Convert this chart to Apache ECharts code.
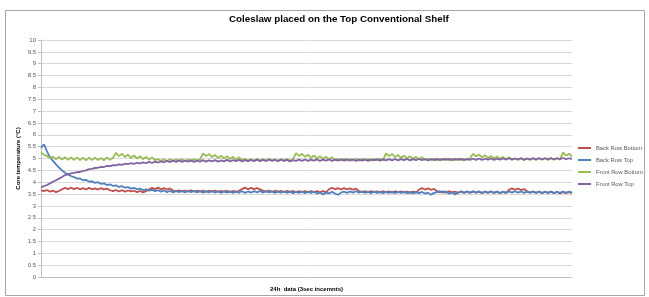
<!DOCTYPE html>
<html>
<head>
<meta charset="utf-8">
<script src="https://cdn.jsdelivr.net/npm/echarts@6/dist/echarts.min.js"></script>
<style>
    html, body {margin: 0; padding: 0; background: #fff;}
    #main {width: 649px; height: 297px;}
</style>
</head>
<body>
<div id="main"></div>
<script>
// 曲线数据（每3秒一个读数，按图读取）
var seriesNames = ['Back Row Bottom', 'Back Row Top', 'Front Row Bottom', 'Front Row Top'];
var seriesColors = ['#c0504d', '#4f81bd', '#9bbb59', '#8064a2'];

var backRowBottom = [
    3.66, 3.62, 3.67, 3.6, 3.64, 3.58, 3.63,
    3.7, 3.76, 3.7, 3.77, 3.71, 3.76, 3.7, 3.75, 3.69, 3.76, 3.7, 3.74, 3.69, 3.75, 3.7, 3.73,
    3.66, 3.62, 3.67, 3.61, 3.66, 3.6, 3.65, 3.61, 3.64, 3.58, 3.63, 3.57, 3.62,
    3.7, 3.76, 3.71, 3.77, 3.7, 3.75, 3.69, 3.74,
    3.65, 3.61, 3.66, 3.6, 3.65, 3.61, 3.66, 3.6, 3.64, 3.6, 3.65, 3.59, 3.64, 3.6, 3.65, 3.59, 3.63, 3.6, 3.64, 3.58, 3.63, 3.59, 3.64,
    3.71, 3.77, 3.7, 3.76, 3.71, 3.75, 3.7,
    3.64, 3.6, 3.65, 3.59, 3.64, 3.6, 3.63, 3.58, 3.64, 3.59, 3.63, 3.57, 3.62, 3.58, 3.63, 3.57, 3.62, 3.58, 3.63, 3.57, 3.62, 3.58,
    3.7, 3.76, 3.7, 3.75, 3.69, 3.75, 3.7, 3.74, 3.68, 3.73,
    3.63, 3.58, 3.62, 3.57, 3.62, 3.58, 3.61, 3.56, 3.62, 3.57, 3.61, 3.56, 3.62, 3.57, 3.61, 3.56, 3.6, 3.55, 3.61, 3.56,
    3.69, 3.75, 3.69, 3.74, 3.68, 3.72,
    3.62, 3.57, 3.61, 3.56, 3.62, 3.57, 3.6, 3.55, 3.61, 3.56, 3.6, 3.55, 3.61, 3.56, 3.6, 3.54, 3.6, 3.55, 3.61, 3.55, 3.6, 3.54, 3.59, 3.55,
    3.68, 3.74, 3.68, 3.73, 3.67, 3.71,
    3.61, 3.56, 3.6, 3.55, 3.6, 3.54, 3.59, 3.55, 3.6, 3.54, 3.59, 3.53, 3.58, 3.54, 3.59, 3.53
];

var backRowTop = [
    5.45, 5.6, 5.3, 5.05, 4.9, 4.75, 4.62, 4.5, 4.4, 4.33,
    4.26, 4.22, 4.15, 4.16, 4.08, 4.1, 4.02, 4.04, 3.97, 4.0,
    3.93, 3.95, 3.88, 3.91, 3.84, 3.87, 3.8, 3.83, 3.77, 3.79,
    3.73, 3.76, 3.7, 3.73, 3.67, 3.7, 3.64, 3.68, 3.62, 3.66,
    3.6, 3.65, 3.58, 3.64, 3.57, 3.63, 3.58, 3.64, 3.57, 3.62,
    3.58, 3.64, 3.57, 3.63, 3.56, 3.62, 3.57, 3.63, 3.56, 3.62,
    3.55, 3.61, 3.56, 3.62, 3.55, 3.6, 3.56, 3.62, 3.55, 3.61,
    3.56, 3.62, 3.57, 3.63, 3.56, 3.62, 3.57, 3.61, 3.55, 3.6,
    3.56, 3.61, 3.55, 3.6, 3.54, 3.6, 3.55, 3.61, 3.54, 3.6,
    3.55, 3.6, 3.52, 3.57, 3.48, 3.56, 3.53, 3.6, 3.52, 3.47,
    3.56, 3.6, 3.55, 3.61, 3.56, 3.62, 3.56, 3.61, 3.55, 3.6,
    3.54, 3.6, 3.55, 3.6, 3.54, 3.59, 3.55, 3.6, 3.54, 3.59,
    3.55, 3.6, 3.54, 3.59, 3.53, 3.58, 3.54, 3.59, 3.52, 3.56,
    3.47, 3.55, 3.58, 3.62, 3.56, 3.61, 3.52, 3.57, 3.48, 3.56,
    3.6, 3.55, 3.61, 3.56, 3.62, 3.56, 3.61, 3.55, 3.6, 3.56,
    3.61, 3.55, 3.6, 3.54, 3.6, 3.55, 3.61, 3.56, 3.62, 3.56,
    3.61, 3.55, 3.6, 3.56, 3.61, 3.55, 3.6, 3.54, 3.6, 3.55,
    3.6, 3.54, 3.59, 3.55, 3.61, 3.55, 3.6, 3.56
];

var frontRowBottom = [
    5.25, 5.16, 5.1, 5.02, 5.08, 4.97, 5.06, 4.96, 5.05, 4.95, 5.04, 4.94, 5.05, 4.93, 5.03, 4.92, 5.04, 4.93, 5.03, 4.94, 5.02, 4.93, 5.04, 4.95, 5.03,
    5.24, 5.1, 5.2, 5.06, 5.16, 5.02, 5.13, 5.0, 5.1, 4.97, 5.07, 4.95, 5.04, 4.93,
    4.97, 4.9, 4.96, 4.89, 4.97, 4.9, 4.96, 4.9, 4.97, 4.89, 4.96, 4.9, 4.97, 4.91, 4.96,
    5.22, 5.1, 5.19, 5.06, 5.15, 5.02, 5.12, 5.0, 5.1, 4.98, 5.07, 4.96, 5.05, 4.94,
    4.98, 4.91, 4.97, 4.9, 4.98, 4.91, 4.97, 4.9, 4.98, 4.91, 4.96, 4.9, 4.97, 4.91, 4.98, 4.9, 4.97,
    5.23, 5.11, 5.2, 5.07, 5.16, 5.03, 5.13, 5.0, 5.1, 4.98, 5.08, 4.96, 5.05, 4.94,
    4.98, 4.92, 4.99, 4.91, 4.98, 4.92, 4.99, 4.91, 4.98, 4.92, 4.99, 4.91, 4.98, 4.92, 4.99, 4.92,
    5.22, 5.1, 5.19, 5.06, 5.15, 5.03, 5.12, 5.01, 5.1, 4.98, 5.07, 4.97, 5.05, 4.95,
    4.99, 4.93, 5.0, 4.92, 4.99, 4.93, 5.0, 4.92, 4.99, 4.93, 5.0, 4.93, 4.99, 4.94, 5.0,
    5.2, 5.09, 5.17, 5.05, 5.14, 5.02, 5.11, 5.0, 5.09, 4.98, 5.07, 4.97, 5.05, 4.96,
    5.0, 4.94, 5.01, 4.93, 5.0, 4.94, 5.01, 4.94, 5.0, 4.95, 5.01, 4.94, 5.0, 4.95, 5.01, 4.95,
    5.26, 5.12, 5.2, 5.08
];

var frontRowTop = [
    3.78, 3.84, 3.88, 3.95, 4.02, 4.08, 4.15, 4.22, 4.3, 4.33,
    4.37, 4.39, 4.42, 4.43, 4.48, 4.5, 4.55, 4.56, 4.6, 4.61,
    4.65, 4.64, 4.69, 4.68, 4.72, 4.71, 4.75, 4.73, 4.78, 4.76,
    4.8, 4.77, 4.82, 4.79, 4.84, 4.8, 4.86, 4.81, 4.87, 4.83,
    4.88, 4.84, 4.9, 4.85, 4.91, 4.86, 4.92, 4.86, 4.91, 4.87,
    4.92, 4.86, 4.91, 4.87, 4.93, 4.87, 4.92, 4.88, 4.93, 4.87,
    4.92, 4.88, 4.94, 4.88, 4.93, 4.89, 4.94, 4.88, 4.93, 4.89,
    4.94, 4.89, 4.95, 4.89, 4.94, 4.9, 4.95, 4.9, 4.94, 4.89,
    4.95, 4.9, 4.94, 4.88, 4.93, 4.9, 4.95, 4.9, 4.96, 4.9,
    4.95, 4.91, 4.96, 4.9, 4.95, 4.91, 4.96, 4.9, 4.95, 4.91,
    4.96, 4.91, 4.97, 4.91, 4.96, 4.9, 4.95, 4.91, 4.96, 4.9,
    4.96, 4.92, 4.97, 4.91, 4.96, 4.92, 4.97, 4.92, 4.98, 4.92,
    4.97, 4.93, 4.98, 4.92, 4.97, 4.93, 4.98, 4.93, 4.97, 4.92,
    4.98, 4.93, 4.99, 4.93, 4.98, 4.94, 4.99, 4.93, 4.98, 4.94,
    4.99, 4.93, 4.98, 4.94, 4.99, 4.94, 5.0, 4.94, 4.99, 4.95,
    5.0, 4.94, 4.99, 4.95, 5.0, 4.95, 5.01, 4.95, 5.0, 4.96,
    5.01, 4.95, 5.0, 4.96, 5.01, 4.96, 5.02, 4.96, 5.01, 4.97,
    5.02, 4.96, 5.01, 4.97, 5.02, 4.97, 5.01, 4.98
];

var myChart = echarts.init(document.getElementById('main'));

var seriesData = [backRowBottom, backRowTop, frontRowBottom, frontRowTop];
var series = [];
for (var i = 0; i < seriesData.length; i++) {
    series.push({
        name: seriesNames[i],
        type: 'line',
        symbol: 'none',
        animation: false,
        lineStyle: {color: seriesColors[i], width: 1.8},
        itemStyle: {color: seriesColors[i]},
        data: seriesData[i]
    });
}

var option = {
    backgroundColor: '#fff',
    title: {
        text: 'Coleslaw placed on the Top Conventional Shelf',
        left: 229,
        top: 14,
        padding: 0,
        textStyle: {
            color: '#000',
            fontFamily: 'Liberation Sans',
            fontWeight: 'bold',
            fontSize: 9.8
        }
    },
    legend: {
        orient: 'vertical',
        left: 578,
        top: 144,
        padding: 0,
        icon: 'rect',
        itemWidth: 13,
        itemHeight: 2,
        itemGap: 4,
        textStyle: {
            color: '#595959',
            fontFamily: 'Liberation Sans',
            fontSize: 5.8,
            lineHeight: 8
        },
        data: seriesNames
    },
    grid: {left: 41, right: 77, top: 40, bottom: 19},
    xAxis: {
        type: 'category',
        boundaryGap: false,
        name: '24h  data (3sec incemnts)',
        nameLocation: 'middle',
        nameGap: 9,
        nameTextStyle: {color: '#000', fontSize: 6, fontWeight: 'bold', fontFamily: 'Liberation Sans'},
        axisLine: {lineStyle: {color: '#bfbfbf'}},
        axisTick: {show: false},
        axisLabel: {show: false},
        splitLine: {show: false}
    },
    yAxis: {
        type: 'value',
        min: 0,
        max: 10,
        interval: 0.5,
        name: 'Core temperature (°C)',
        nameLocation: 'middle',
        nameGap: 20,
        nameMoveOverlap: false,
        nameTextStyle: {color: '#000', fontSize: 6, fontWeight: 'bold', fontFamily: 'Liberation Sans'},
        axisLine: {show: true, lineStyle: {color: '#bfbfbf'}},
        axisTick: {show: true, length: 3, lineStyle: {color: '#bfbfbf'}},
        axisLabel: {color: '#595959', fontSize: 6, margin: 5, fontFamily: 'Liberation Sans'},
        splitLine: {lineStyle: {color: '#d9d9d9'}}
    },
    graphic: [{
        type: 'rect',
        shape: {x: 5.5, y: 10.5, width: 639, height: 285},
        style: {fill: 'none', stroke: '#a6a6a6', lineWidth: 1},
        silent: true
    }],
    series: series
};

myChart.setOption(option);
</script>
</body>
</html>
